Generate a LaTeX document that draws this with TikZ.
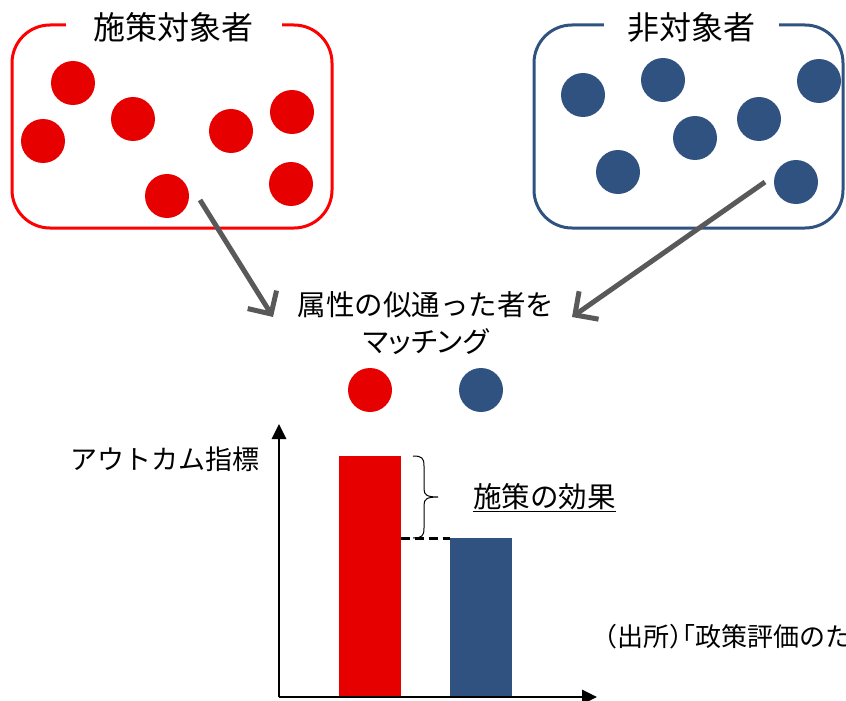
\documentclass[tikz,border=0pt]{standalone}
\usepackage{fontspec}
\setmainfont{Noto Sans CJK JP}
\newfontfamily\jppalt{Noto Sans CJK JP}[RawFeature=+palt]
\newfontfamily\jphalt{Noto Sans CJK JP}[RawFeature=+halt]
\usetikzlibrary{arrows.meta}
\definecolor{myred}{RGB}{230,0,0}
\definecolor{boxred}{RGB}{255,0,0}
\definecolor{myblue}{RGB}{47,82,128}
\definecolor{mygray}{RGB}{89,89,89}
\begin{document}
\begin{tikzpicture}[x=1pt,y=-1pt,
  reddot/.style={circle,fill=myred,minimum size=44pt,inner sep=0pt},
  bluedot/.style={circle,fill=myblue,minimum size=44pt,inner sep=0pt},
  groupbox/.style={line width=3pt,rounded corners=38pt},
  grouptitle/.style={fill=white,font=\fontsize{32}{38}\selectfont,inner ysep=2pt},
  matcharrow/.style={draw=mygray,line width=5pt,-{Straight Barb[length=17pt,width=34pt]}},
  axisline/.style={line width=2.8pt,-{Triangle[length=15pt,width=14pt]}},
]
\useasboundingbox (0,0) rectangle (846,701);
% groups
\draw[groupbox,draw=boxred] (12,25) rectangle (332,228);
\node[grouptitle,inner xsep=28pt] (t1) at (173.5,27) {施策対象者};
\draw[groupbox,draw=myblue] (534,25) rectangle (843,228);
\node[grouptitle,inner xsep=23.5pt] (t2) at (691.5,27) {非対象者};
% red dots
\node[reddot] (r1) at (73,83) {};
\node[reddot] (r2) at (43,141) {};
\node[reddot] (r3) at (133,119) {};
\node[reddot] (r4) at (231,131) {};
\node[reddot] (r5) at (292,112) {};
\node[reddot] (r6) at (291,184) {};
\node[reddot] (r7) at (167,196) {};
% blue dots
\node[bluedot] (b1) at (583,95) {};
\node[bluedot] (b2) at (663,80) {};
\node[bluedot] (b3) at (819,81) {};
\node[bluedot] (b4) at (759,119) {};
\node[bluedot] (b5) at (695,138) {};
\node[bluedot] (b6) at (618,172) {};
\node[bluedot] (b7) at (796,182) {};
% matching text and arrows
\node[align=center,font=\fontsize{28.5}{37}\selectfont] (mt) at (426,323.5) {属性の似通った者を\\{\jppalt マッチング}};
\coordinate (a1s) at (200,200);
\coordinate (a1e) at (273,317);
\coordinate (a2s) at (765,182);
\coordinate (a2e) at (572,317);
\draw[matcharrow] (a1s) -- (a1e);
\draw[matcharrow] (a2s) -- (a2e);
\node[reddot] (m1) at (370,390) {};
\node[bluedot] (m2) at (481,390) {};
% chart
\fill[myred] (339,456) rectangle (400.5,697);
\fill[myblue] (450,538) rectangle (511.5,697);
\coordinate (O) at (279,697);
\coordinate (ytip) at (279,424);
\coordinate (xtip) at (597,697);
\draw[axisline] (O) -- (ytip);
\draw[axisline] (O) -- (xtip);
\draw[line width=3pt,dash pattern=on 9pt off 5pt] (400.5,538) -- (450,538);
\draw[line width=1pt] (413,456) .. controls (422,456) and (424,458) .. (424,466) -- (424,489) .. controls (424,495) and (427,497) .. (438,497)
  .. controls (427,497) and (424,499) .. (424,505) -- (424,528) .. controls (424,536) and (422,538) .. (413,538);
\node[font=\fontsize{27}{32}\selectfont] (ylab) at (164.5,459) {アウトカム指標};
\node[font=\fontsize{28.5}{34}\selectfont] (eff) at (544.5,498) {\underline{施策の効果}};
\node[anchor=west,font=\jphalt\fontsize{26}{31}\selectfont,inner sep=0pt] (src) at (604,637) {（出所）「政策評価のた};
\end{tikzpicture}
\end{document}
